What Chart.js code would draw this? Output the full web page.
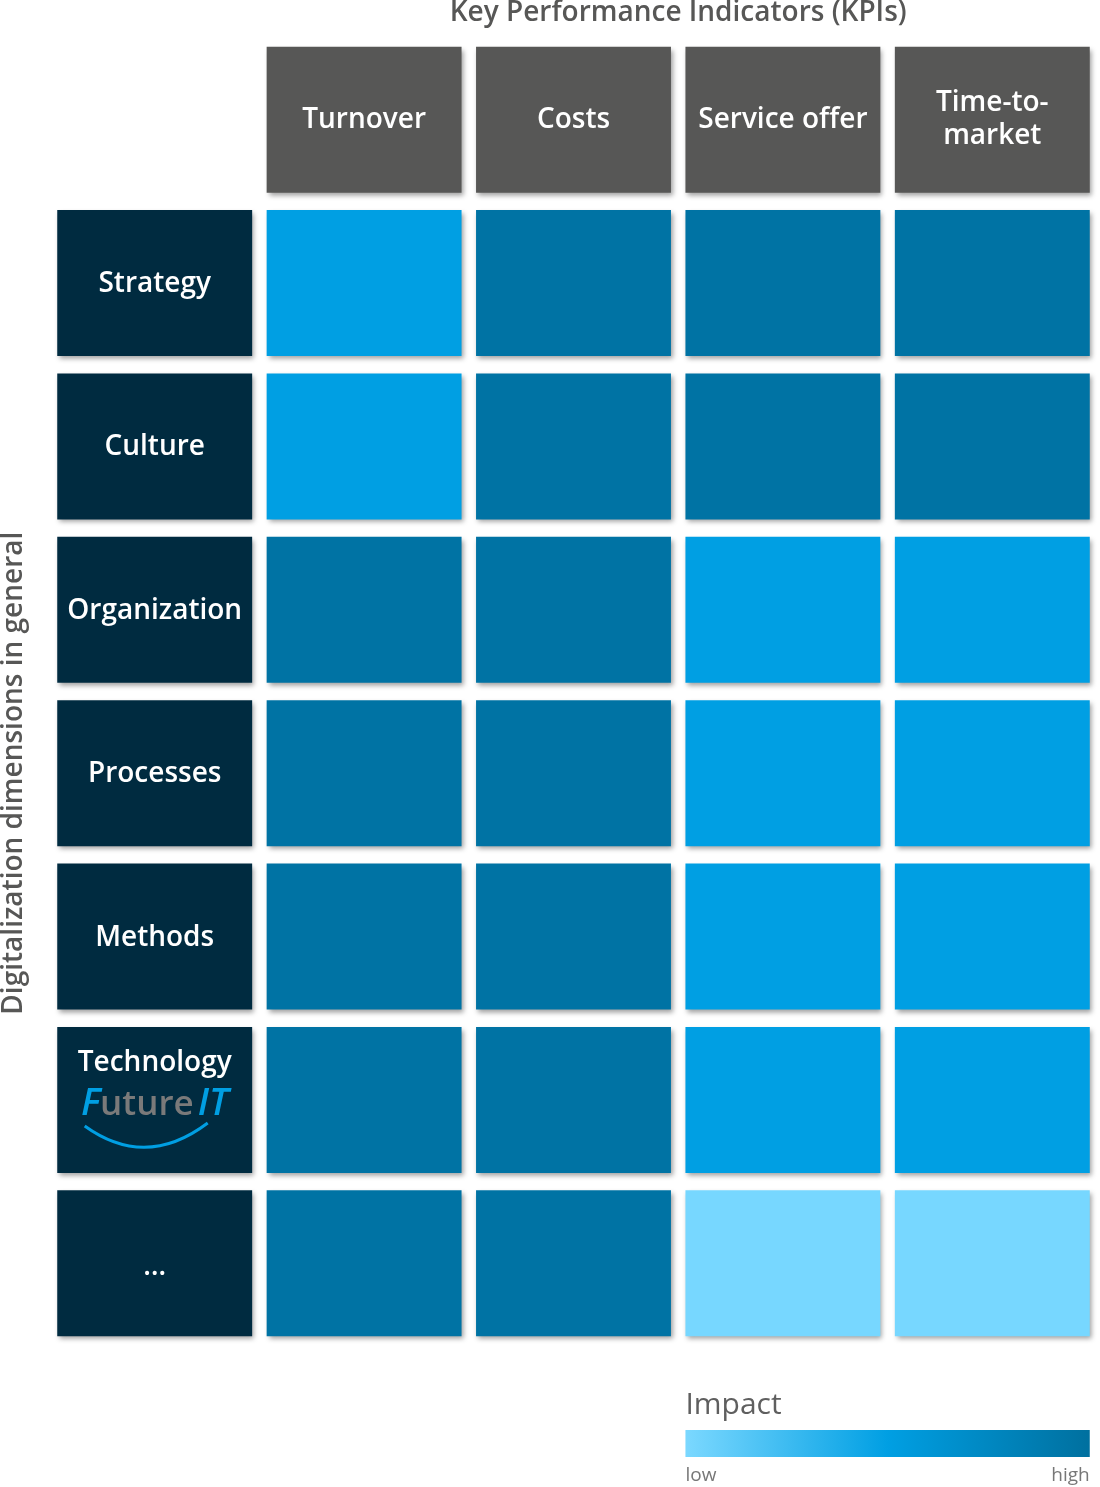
<!DOCTYPE html>
<html>
<head>
<meta charset="utf-8">
<script src="https://cdn.jsdelivr.net/npm/chart.js@4.4.1/dist/chart.umd.min.js"></script>
<style>
  html, body { margin: 0; padding: 0; background: #fff; }
  #wrap { width: 1100px; height: 1487px; }
</style>
</head>
<body>
<div id="wrap"><canvas id="grid" width="1100" height="1487"></canvas></div>
<script>
// rows (dimensions) and columns (KPIs)
const dimensions = ['Strategy', 'Culture', 'Organization', 'Processes', 'Methods', 'Technology', '...'];
const kpis = ['Turnover', 'Costs', 'Service offer', 'Time-to-\nmarket'];

// impact per dimension: 1 = low, 2 = medium, 3 = high
const turnover     = [2, 2, 3, 3, 3, 3, 3];
const costs        = [3, 3, 3, 3, 3, 3, 3];
const serviceOffer = [3, 3, 2, 2, 2, 2, 1];
const timeToMarket = [3, 3, 2, 2, 2, 2, 1];
const impactByKpi = [turnover, costs, serviceOffer, timeToMarket];

const impactColors = { 1: '#77D7FF', 2: '#009FE3', 3: '#0073A4' };
const headerColor = '#575756';
const dimColor = '#002B40';
const textGray = '#575756';

const half = 0.0346; // half the gap between cells, in column units
const rowKeys = ['head'].concat(dimensions);

const datasets = [];
// first column: dimension names
datasets.push({
    label: 'Dimensions',
    data: rowKeys.map((r, i) => i === 0 ? null : [0 + half, 1 - half]),
    backgroundColor: dimColor
});
kpis.forEach((kpi, k) => {
    const col = k + 1;
    datasets.push({
        label: kpi,
        data: rowKeys.map(() => [col + half, col + 1 - half]),
        backgroundColor: rowKeys.map((r, i) => i === 0 ? headerColor : impactColors[impactByKpi[k][i - 1]])
    });
});
datasets.forEach(ds => {
    ds.grouped = false;
    ds.barPercentage = 0.893;
    ds.categoryPercentage = 1;
    ds.borderWidth = 0;
    ds.borderSkipped = false;
});

const shadowPlugin = {
    id: 'shadow',
    beforeDatasetsDraw(chart) {
        const ctx = chart.ctx;
        ctx.save();
        ctx.shadowColor = 'rgba(0,0,0,0.38)';
        ctx.shadowBlur = 5;
        ctx.shadowOffsetX = 2;
        ctx.shadowOffsetY = 3;
    },
    afterDatasetsDraw(chart) {
        chart.ctx.restore();
    }
};

const labelsPlugin = {
    id: 'labels',
    afterDraw(chart) {
        const ctx = chart.ctx;
        const x = chart.scales.x;
        const y = chart.scales.y;
        ctx.save();
        ctx.textAlign = 'center';
        ctx.textBaseline = 'middle';

        // column headers
        ctx.fillStyle = '#fff';
        ctx.font = '600 28px "Open Sans"';
        kpis.forEach((kpi, k) => {
            const cx = x.getPixelForValue(k + 1.5);
            const cy = y.getPixelForValue(0);
            const lines = kpi.split('\n');
            lines.forEach((ln, j) => {
                ctx.fillText(ln, cx, cy + (j - (lines.length - 1) / 2) * 33);
            });
        });

        // dimension names
        const cx0 = x.getPixelForValue(0.5);
        dimensions.forEach((d, i) => {
            const cy = y.getPixelForValue(i + 1);
            ctx.fillStyle = '#fff';
            ctx.font = '600 28px "Open Sans"';
            if (d === 'Technology') {
                ctx.fillText(d, cx0, cy - 37);
                drawLogo(ctx, cx0, cy);
            } else if (d === '...') {
                ctx.fillText('…', cx0, cy + 4);
            } else {
                ctx.fillText(d, cx0, cy + 1);
            }
        });

        // axis titles
        ctx.fillStyle = textGray;
        ctx.font = '600 28px "Open Sans"';
        const titleX = (x.getPixelForValue(1) + x.getPixelForValue(5)) / 2;
        ctx.fillText('Key Performance Indicators (KPIs)', titleX, 13);

        const midY = (y.getPixelForValue(1) + y.getPixelForValue(dimensions.length)) / 2;
        ctx.save();
        ctx.translate(14, midY);
        ctx.rotate(-Math.PI / 2);
        ctx.fillText('Digitalization dimensions in general', 0, 0);
        ctx.restore();

        // impact legend
        const lx0 = x.getPixelForValue(3 + half);
        const lx1 = x.getPixelForValue(5 - half);
        ctx.textAlign = 'left';
        ctx.textBaseline = 'alphabetic';
        ctx.fillStyle = '#5f5f5f';
        ctx.font = '30px "Open Sans"';
        ctx.fillText('Impact', lx0, 1414);
        const grad = ctx.createLinearGradient(lx0, 0, lx1, 0);
        grad.addColorStop(0, '#7BD8FF');
        grad.addColorStop(0.5, '#009FE3');
        grad.addColorStop(1, '#00709F');
        ctx.fillStyle = grad;
        ctx.fillRect(lx0, 1430, lx1 - lx0, 27);
        ctx.fillStyle = '#777';
        ctx.font = '19px "Open Sans"';
        ctx.fillText('low', lx0, 1481);
        ctx.textAlign = 'right';
        ctx.fillText('high', lx1, 1481);
        ctx.restore();
    }
};

function drawLogo(ctx, cx, cy) {
    const blue = '#009FE3';
    const gray = '#7a7a7a';
    const base = cy + 15;
    ctx.save();
    ctx.textAlign = 'left';
    ctx.textBaseline = 'alphabetic';
    const fF = 'italic 600 38px "Open Sans"';
    const fU = '600 35px "Open Sans"';
    ctx.font = fF; const wF = ctx.measureText('F').width;
    ctx.font = fU; const wU = ctx.measureText('uture').width;
    ctx.font = fF; const wI = ctx.measureText('IT').width;
    let px = cx - (wF + wU + wI + 4) / 2;
    ctx.fillStyle = blue; ctx.font = fF; ctx.fillText('F', px, base);
    px += wF;
    ctx.fillStyle = gray; ctx.font = fU; ctx.fillText('uture', px, base);
    px += wU + 4;
    ctx.fillStyle = blue; ctx.font = fF; ctx.fillText('IT', px, base);
    ctx.strokeStyle = blue;
    ctx.lineWidth = 3;
    ctx.beginPath();
    ctx.moveTo(cx - 70, cy + 26);
    ctx.quadraticCurveTo(cx - 9, cy + 70, cx + 53, cy + 23);
    ctx.stroke();
    ctx.restore();
}

new Chart(document.getElementById('grid'), {
    type: 'bar',
    data: { labels: rowKeys, datasets: datasets },
    options: {
        indexAxis: 'y',
        responsive: false,
        animation: false,
        layout: { padding: { left: 50, top: 38, right: 3, bottom: 142 } },
        plugins: {
            legend: { display: false },
            tooltip: { enabled: false },
            title: { display: false }
        },
        scales: {
            x: { type: 'linear', min: 0, max: 5, display: false },
            y: { type: 'category', display: false }
        }
    },
    plugins: [shadowPlugin, labelsPlugin]
});
</script>
</body>
</html>
